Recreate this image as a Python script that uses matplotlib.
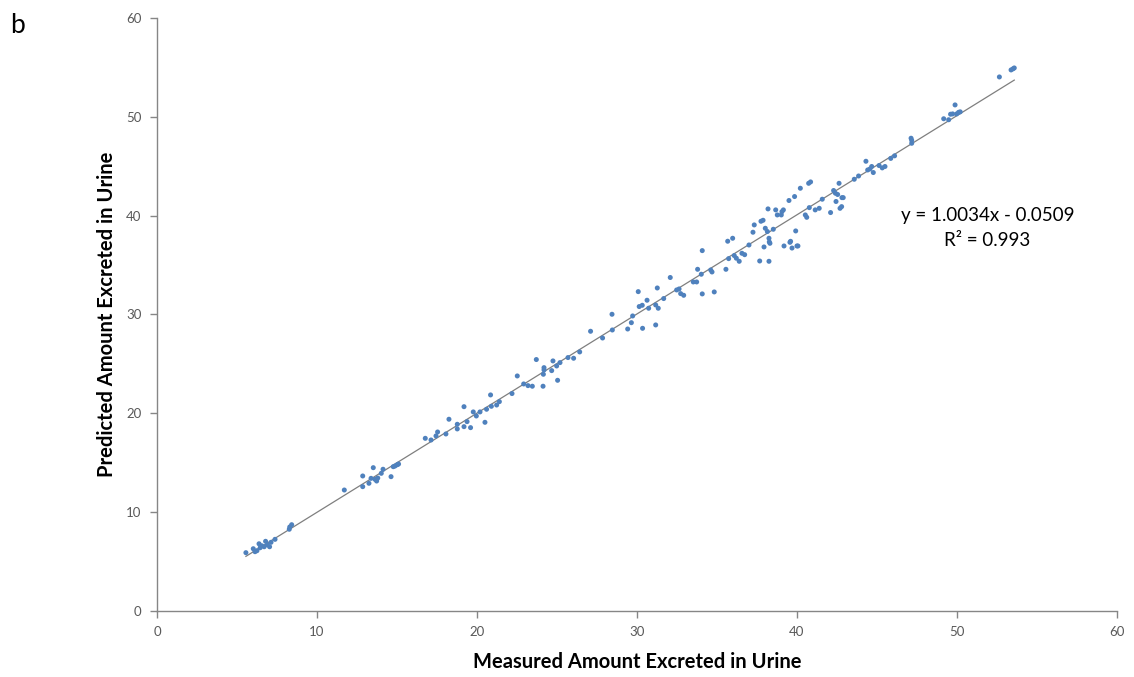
import numpy as np
import matplotlib
matplotlib.use("Agg")
import matplotlib.pyplot as plt

plt.rcParams['font.family'] = ['Lato', 'DejaVu Sans']

# Measured vs. predicted amount excreted in urine
measured = [
    5.56, 6.02, 6.13, 6.25, 6.38, 6.45, 6.55, 6.70, 6.79, 6.90, 7.04, 7.13, 7.38,
    8.27, 8.30, 8.42,
    11.71, 12.86, 12.86, 13.25, 13.38, 13.52, 13.63, 13.73, 13.80, 14.02, 14.13,
    14.63, 14.77, 14.88, 15.02, 15.10,
    16.77, 17.13, 17.44, 17.54, 18.06, 18.25, 18.77, 18.77, 19.19, 19.19, 19.38,
    19.60, 19.77, 19.96, 20.19, 20.50, 20.60, 20.85, 20.90, 21.23, 21.40,
    22.19, 22.52, 22.92, 23.19, 23.46, 23.71, 24.13, 24.15, 24.19, 24.19, 24.67,
    24.75, 24.98, 25.04, 25.19, 25.69, 26.04, 26.42, 27.10, 27.85, 28.44, 28.46,
    29.42, 29.65, 29.73, 30.08, 30.14, 30.33, 30.35, 30.63, 30.73, 31.17, 31.17,
    31.27, 31.33, 31.67, 32.08, 32.48, 32.63, 32.73, 32.92, 33.52, 33.73, 33.79,
    34.02, 34.08, 34.08, 34.61, 34.69, 34.83, 35.56, 35.67, 35.73, 35.98, 36.08,
    36.21, 36.39, 36.56, 36.73, 37.00, 37.25, 37.33, 37.67, 37.75, 37.88, 37.94,
    38.02, 38.19, 38.25, 38.25, 38.15, 38.27, 38.31, 38.52, 38.67, 38.77, 39.02,
    39.06, 39.15, 39.19, 39.50, 39.56, 39.60, 39.69, 39.85, 39.92, 40.00, 40.06,
    40.21, 40.52, 40.61, 40.73, 40.85, 40.77, 41.14, 41.39, 41.58, 42.10, 42.29,
    42.40, 42.44, 42.54, 42.63, 42.69, 42.79, 42.81, 42.89, 43.58, 43.85, 44.31,
    44.42, 44.56, 44.67, 44.77, 45.13, 45.33, 45.50, 45.86, 46.10, 47.13, 47.17,
    47.17, 49.17, 49.48, 49.60, 49.73, 49.88, 49.98, 50.10, 50.20, 52.65, 53.38,
    53.50, 53.58,
]
predicted = [
    5.90, 6.30, 6.00, 6.10, 6.80, 6.40, 6.60, 6.50, 7.05, 6.70, 6.50, 6.95, 7.25,
    8.27, 8.50, 8.73,
    12.24, 12.58, 13.66, 12.92, 13.42, 14.50, 13.32, 13.15, 13.45, 13.93, 14.34,
    13.59, 14.60, 14.67, 14.80, 14.87,
    17.47, 17.30, 17.71, 18.11, 17.91, 19.40, 18.89, 18.42, 20.67, 18.65, 19.16,
    18.55, 20.14, 19.73, 20.14, 19.09, 20.41, 21.86, 20.71, 20.84, 21.18,
    22.00, 23.78, 22.97, 22.80, 22.74, 25.44, 22.74, 23.95, 24.39, 24.62, 24.32,
    25.30, 24.79, 23.34, 25.13, 25.64, 25.57, 26.21, 28.30, 27.62, 30.02, 28.43,
    28.53, 29.17, 29.85, 32.31, 30.80, 30.93, 28.60, 31.44, 30.63, 28.94, 30.96,
    32.68, 30.63, 31.61, 33.74, 32.48, 32.58, 32.11, 31.94, 33.29, 33.29, 34.57,
    34.07, 36.46, 32.08, 34.50, 34.30, 32.28, 34.57, 37.41, 35.65, 37.71, 35.96,
    35.69, 35.38, 36.19, 36.05, 37.03, 38.32, 39.06, 35.41, 39.43, 39.53, 36.83,
    38.72, 40.68, 35.38, 37.71, 38.39, 37.34, 37.20, 38.62, 40.58, 40.07, 40.07,
    40.40, 40.58, 36.93, 41.53, 37.30, 37.40, 36.72, 41.93, 38.45, 36.93, 36.93,
    42.77, 40.07, 39.83, 43.27, 43.41, 40.81, 40.58, 40.74, 41.66, 40.31, 42.54,
    42.27, 41.43, 42.14, 43.27, 40.74, 40.91, 41.82, 41.82, 43.68, 44.01, 45.50,
    44.62, 44.72, 44.97, 44.36, 45.07, 44.83, 44.97, 45.79, 46.05, 47.83, 47.62,
    47.32, 49.80, 49.70, 50.26, 50.29, 51.20, 50.29, 50.45, 50.50, 54.03, 54.74,
    54.85, 54.94,
]

# Linear trendline
slope = 1.0034
intercept = -0.0509
r_squared = 0.993

x_ticks = [0, 10, 20, 30, 40, 50, 60]
y_ticks = [0, 10, 20, 30, 40, 50, 60]

fig = plt.figure(figsize=(11.34, 6.77), dpi=100)
ax = fig.add_axes([0.1384, 0.0975, 0.8466, 0.876])

ax.scatter(measured, predicted, s=13, color='#4F81BD', edgecolors='none', zorder=3)

xs = np.array([min(measured), max(measured)])
ax.plot(xs, slope * xs + intercept, color='#7F7F7F', lw=0.9, zorder=2)

ax.set_xlim(0, 60)
ax.set_ylim(0, 60)
ax.set_xticks(x_ticks)
ax.set_yticks(y_ticks)

for side in ('top', 'right'):
    ax.spines[side].set_visible(False)
for side in ('left', 'bottom'):
    ax.spines[side].set_color('#868686')
    ax.spines[side].set_linewidth(1.0)

ax.tick_params(axis='both', direction='out', length=5, width=1.0, color='#868686',
               labelsize=9.5, labelcolor='#595959', pad=6)

ax.set_xlabel('Measured Amount Excreted in Urine', fontsize=14.5, fontweight='bold',
              labelpad=10, color='black')
ax.set_ylabel('Predicted Amount Excreted in Urine', fontsize=14.5, fontweight='bold',
              labelpad=7, color='black')

ax.text(51.9, 40.0, f'y = {slope}x - {abs(intercept)}', fontsize=13.5,
        ha='center', va='center')
ax.text(51.9, 37.5, f'R² = {r_squared}', fontsize=13.5, ha='center', va='center')

fig.text(0.009, 0.963, 'b', fontsize=19, ha='left', va='center')

fig.savefig('out.png', dpi=100)
